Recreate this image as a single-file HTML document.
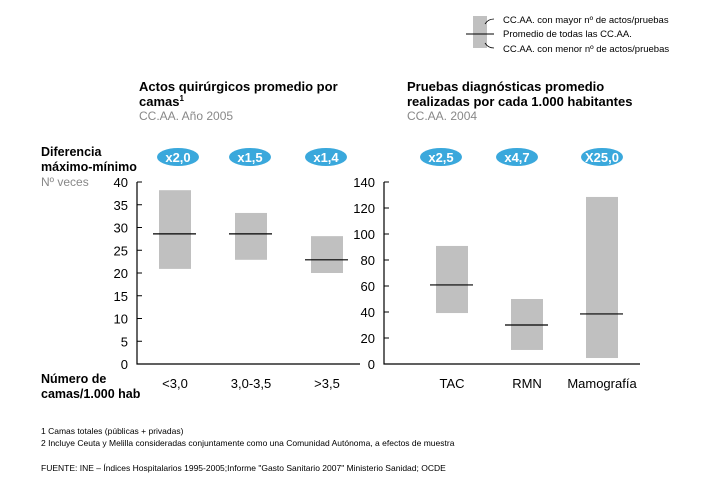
<!DOCTYPE html>
<html><head><meta charset="utf-8"><style>
body{margin:0;background:#fff;font-family:"Liberation Sans",sans-serif}
svg text{font-family:"Liberation Sans",sans-serif}
</style></head><body>
<svg width="715" height="481" viewBox="0 0 715 481" xmlns="http://www.w3.org/2000/svg">
<g>
<rect x="473" y="16" width="14" height="32" fill="#c0c0c0"/>
<line x1="466" y1="34" x2="494" y2="34" stroke="#000" stroke-width="1"/>
<path d="M485,24 Q488,19 494,19" fill="none" stroke="#000" stroke-width="0.8"/>
<path d="M485,43 Q488,48 494,48" fill="none" stroke="#000" stroke-width="0.8"/>
<text x="503" y="23" font-size="9.5">CC.AA. con mayor nº de actos/pruebas</text>
<text x="503" y="37" font-size="9.5">Promedio de todas las CC.AA.</text>
<text x="503" y="52" font-size="9.5">CC.AA. con menor nº de actos/pruebas</text>
</g>
<g>
<text x="139" y="91" font-size="13" font-weight="bold">Actos quirúrgicos promedio por</text>
<text x="139" y="106" font-size="13" font-weight="bold">camas<tspan font-size="8" dy="-5">1</tspan></text>
<text x="139" y="120" font-size="12" fill="#888">CC.AA. Año 2005</text>
</g>
<g>
<text x="407" y="91" font-size="13" font-weight="bold">Pruebas diagnósticas promedio</text>
<text x="407" y="106" font-size="13" font-weight="bold">realizadas por cada 1.000 habitantes</text>
<text x="407" y="120" font-size="12" fill="#888">CC.AA. 2004</text>
</g>
<g>
<text x="41" y="156" font-size="12.5" font-weight="bold">Diferencia</text>
<text x="41" y="171" font-size="12.5" font-weight="bold">máximo-mínimo</text>
<text x="41" y="186" font-size="12" fill="#888">Nº veces</text>
</g>
<g>
<text x="41" y="383" font-size="12.5" font-weight="bold">Número de</text>
<text x="41" y="398" font-size="12.5" font-weight="bold">camas/1.000 hab</text>
</g>
<g id="left"></g>
<g id="right"></g>
<g font-size="8.5">
<text x="41" y="434">1 Camas totales (públicas + privadas)</text>
<text x="41" y="446">2 Incluye Ceuta y Melilla consideradas conjuntamente como una Comunidad Autónoma, a efectos de muestra</text>
<text x="41" y="471">FUENTE: INE – Índices Hospitalarios 1995-2005;Informe "Gasto Sanitario 2007" Ministerio Sanidad; OCDE</text>
</g>
</svg>
<script>
const leftCategories=["<3,0","3,0-3,5",">3,5"];
const leftMax=[38.2,33.2,28.1];
const leftMin=[20.9,22.9,20.0];
const leftMean=[28.6,28.6,22.9];
const leftBadges=["x2,0","x1,5","x1,4"];
const leftTicks=[0,5,10,15,20,25,30,35,40];
const rightCategories=["TAC","RMN","Mamografía"];
const rightMax=[90.8,50,128.5];
const rightMin=[39.2,10.8,4.6];
const rightMean=[60.8,30,38.5];
const rightBadges=["x2,5","x4,7","X25,0"];
const rightTicks=[0,20,40,60,80,100,120,140];
const NS="http://www.w3.org/2000/svg";
function mk(p,t,a){const e=document.createElementNS(NS,t);for(const k in a)e.setAttribute(k,a[k]);p.appendChild(e);return e;}
function draw(g,cfg){
 const y=v=>364-(v/cfg.max)*182;
 const ax=mk(g,'path',{d:`M${cfg.ax},182 L${cfg.ax},364 L${cfg.end},364`,fill:'none',stroke:'#000','stroke-width':1.2});
 
 
 cfg.ticks.forEach(t=>{
  const l=mk(g,'line',{x1:cfg.ax,x2:cfg.ax+5,y1:y(t),y2:y(t),stroke:'#000'});
  
  
  const tx=mk(g,'text',{x:cfg.ax-9,y:y(t)+5,'font-size':13,'text-anchor':'end'});tx.textContent=t;
  
  
 });
 cfg.cats.forEach((c,i)=>{
  const cx=cfg.x0+i*cfg.step;
  const r=mk(g,'rect',{x:cx-16,y:y(cfg.hi[i]),width:32,height:y(cfg.lo[i])-y(cfg.hi[i]),fill:'#c0c0c0'});
  
  
  const m=mk(g,'line',{x1:cx-22,x2:cx+21,y1:y(cfg.mean[i]),y2:y(cfg.mean[i]),stroke:'#000','stroke-width':1.2});
  
  
  const tx=mk(g,'text',{x:cx,y:388,'font-size':13,'text-anchor':'middle'});tx.textContent=c;
  
  
  const bx=cx+cfg.boff[i];
  const el=mk(g,'ellipse',{cx:bx,cy:157,rx:21,ry:9,fill:'#3aa8dc'});
  
  
  const bt=mk(g,'text',{x:bx,y:162,'font-size':13,'font-weight':'bold',fill:'#fff','text-anchor':'middle'});bt.textContent=cfg.badges[i];
  
  
 });
}
draw(document.getElementById('left'),{n:'left',max:40,ax:137,end:360,x0:175,step:76,cats:leftCategories,hi:leftMax,lo:leftMin,mean:leftMean,ticks:leftTicks,badges:leftBadges,boff:[3,-1,-1]});
draw(document.getElementById('right'),{n:'right',max:140,ax:384,end:640,x0:452,step:75,cats:rightCategories,hi:rightMax,lo:rightMin,mean:rightMean,ticks:rightTicks,badges:rightBadges,boff:[-11,-10,0]});
</script>
</body></html>
